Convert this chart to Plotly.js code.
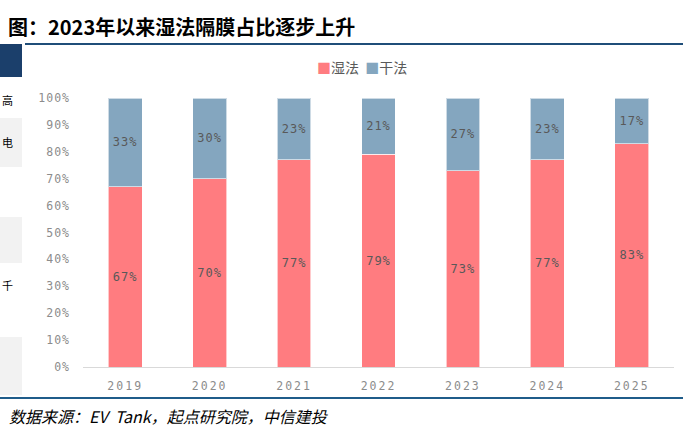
<!DOCTYPE html>
<html>
<head>
<meta charset="utf-8">
<script src="https://cdn.plot.ly/plotly-3.0.1.min.js"></script>
<style>
html,body{margin:0;padding:0;background:#fff;}
#chart{width:683px;height:434px;}
.xtick text{letter-spacing:2px;}
.ytick text{letter-spacing:1px;}
.bartext{letter-spacing:1px;}
</style>
</head>
<body>
<div id="chart"></div>
<script>
const years = ['2019','2020','2021','2022','2023','2024','2025'];
const wetShare = [67, 70, 77, 79, 73, 77, 83];
const dryShare = [33, 30, 23, 21, 27, 23, 17];
const wetName = '湿法';
const dryName = '干法';
const wetColor = '#FF7C80';
const dryColor = '#84A6BF';
const titleText = '图：2023年以来湿法隔膜占比逐步上升';
const sourceText = '数据来源：EV  Tank，起点研究院，中信建投';

const L = 83, R = 9, T = 98, B = 67, WW = 683, HH = 434;
const PW = WW - L - R, PH = HH - T - B;
const px = x => (x - L) / PW;
const py = y => (HH - B - y) / PH;

const labelFont = {family: 'DejaVu Sans Mono, monospace', size: 12, color: '#595959'};
const tickFont = {family: 'DejaVu Sans Mono, monospace', size: 11.5, color: '#8C8C8C'};

const traces = [
  {
    type: 'bar', name: wetName, x: years, y: wetShare,
    text: wetShare.map(v => v + '%'), textposition: 'inside', insidetextanchor: 'middle',
    textfont: labelFont, hoverinfo: 'skip',
    marker: {color: wetColor, line: {color: 'rgba(255,255,255,0.6)', width: 1}}
  },
  {
    type: 'bar', name: dryName, x: years, y: dryShare,
    text: dryShare.map(v => v + '%'), textposition: 'inside', insidetextanchor: 'middle',
    textfont: labelFont, hoverinfo: 'skip',
    marker: {color: dryColor, line: {color: 'rgba(255,255,255,0.6)', width: 1}}
  }
];

const cjk = '"Noto Sans CJK SC", "Noto Sans", sans-serif';

const layout = {
  width: WW, height: HH,
  margin: {l: L, r: R, t: T, b: B, pad: 0},
  paper_bgcolor: '#ffffff', plot_bgcolor: '#ffffff',
  barmode: 'stack', bargap: 0.6,
  showlegend: false,
  xaxis: {
    type: 'category', showgrid: false, zeroline: false,
    showline: true, linecolor: '#D9D9D9', linewidth: 1,
    ticks: '', ticklabelstandoff: 8, tickfont: tickFont
  },
  yaxis: {
    range: [0, 100], dtick: 10, ticksuffix: '%', showgrid: false, zeroline: false,
    showline: false, ticks: '', ticklabelstandoff: 12, tickfont: tickFont
  },
  shapes: [
    {type: 'line', xref: 'paper', yref: 'paper', x0: px(25), x1: px(683), y0: py(44), y1: py(44),
     line: {color: '#1F4E79', width: 2}},
    {type: 'rect', xref: 'paper', yref: 'paper', x0: px(0), x1: px(22), y0: py(77), y1: py(44),
     fillcolor: '#1B3F6B', line: {width: 0}},
    {type: 'rect', xref: 'paper', yref: 'paper', x0: px(0), x1: px(22), y0: py(167), y1: py(118),
     fillcolor: '#F2F2F2', line: {width: 0}},
    {type: 'rect', xref: 'paper', yref: 'paper', x0: px(0), x1: px(22), y0: py(263), y1: py(217),
     fillcolor: '#F2F2F2', line: {width: 0}},
    {type: 'rect', xref: 'paper', yref: 'paper', x0: px(0), x1: px(22), y0: py(395), y1: py(337),
     fillcolor: '#F2F2F2', line: {width: 0}},
    {type: 'line', xref: 'paper', yref: 'paper', x0: px(0), x1: px(683), y0: py(398), y1: py(398),
     line: {color: '#1F5C8A', width: 2}}
  ],
  annotations: [
    {xref: 'paper', yref: 'paper', x: px(6), y: py(26), xanchor: 'left', yanchor: 'middle',
     showarrow: false, text: '<b>' + titleText + '</b>',
     font: {family: cjk, size: 20, color: '#000000'}},
    {xref: 'paper', yref: 'paper', x: px(7), y: py(416), xanchor: 'left', yanchor: 'middle',
     showarrow: false, text: '<i>' + sourceText + '</i>',
     font: {family: cjk, size: 16, color: '#000000'}},
    {xref: 'paper', yref: 'paper', x: px(315), y: py(67), xanchor: 'left', yanchor: 'middle',
     showarrow: false,
     text: '<span style="color:' + wetColor + '">■</span>' + wetName + '  <span style="color:' + dryColor + '">■</span>' + dryName,
     font: {family: cjk, size: 14, color: '#595959'}},
    {xref: 'paper', yref: 'paper', x: px(0), y: py(100), xanchor: 'left', yanchor: 'middle',
     showarrow: false, text: '高', font: {family: cjk, size: 11, color: '#000000'}},
    {xref: 'paper', yref: 'paper', x: px(0), y: py(142), xanchor: 'left', yanchor: 'middle',
     showarrow: false, text: '电', font: {family: cjk, size: 11, color: '#000000'}},
    {xref: 'paper', yref: 'paper', x: px(0), y: py(285), xanchor: 'left', yanchor: 'middle',
     showarrow: false, text: '千', font: {family: cjk, size: 11, color: '#000000'}}
  ]
};

Plotly.newPlot('chart', traces, layout, {displayModeBar: false, staticPlot: true});
</script>
</body>
</html>
